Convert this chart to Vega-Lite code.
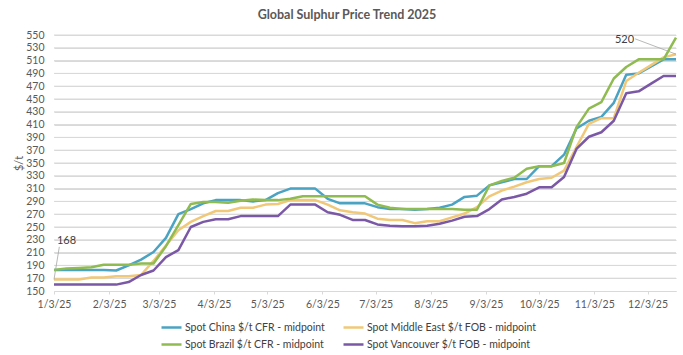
{
"$schema":"https://vega.github.io/schema/vega-lite/v6.json",
"width":622,"height":256,
"autosize":{"type":"none"},
"padding":{"left":54,"top":35,"right":7,"bottom":64},
"background":"white",
"config":{"font":"Lato","view":{"stroke":null},"axisY":{"grid":true,"gridColor":"#d9d9d9","gridWidth":1,"gridOpacity":1}},
"title":{"text":"Global Sulphur Price Trend 2025","fontSize":12.5,"fontWeight":"bold","color":"#595959","anchor":"middle","dx":-18,"offset":9},
"datasets":{
"gridlines":[{"level":170},{"level":190},{"level":210},{"level":230},{"level":250},{"level":270},{"level":290},{"level":310},{"level":330},{"level":350},{"level":370},{"level":390},{"level":410},{"level":430},{"level":450},{"level":470},{"level":490},{"level":510},{"level":530},{"level":550}],
"notes":[
{"date":"2025/01/03","price":168,"date2":"2025/01/06","price2":219,"date3":"2025/01/10","price3":228,"label":"168"},
{"date":"2025/12/19","price":520,"date2":"2025/11/26","price2":544,"date3":"2025/11/20","price3":542,"label":"520"}
],
"prices":[
{"date":"2025/01/03","series":"Spot China $/t CFR -  midpoint","price":183},
{"date":"2025/01/10","series":"Spot China $/t CFR -  midpoint","price":183},
{"date":"2025/01/17","series":"Spot China $/t CFR -  midpoint","price":183},
{"date":"2025/01/24","series":"Spot China $/t CFR -  midpoint","price":183},
{"date":"2025/01/31","series":"Spot China $/t CFR -  midpoint","price":183},
{"date":"2025/02/07","series":"Spot China $/t CFR -  midpoint","price":182},
{"date":"2025/02/14","series":"Spot China $/t CFR -  midpoint","price":190},
{"date":"2025/02/21","series":"Spot China $/t CFR -  midpoint","price":199},
{"date":"2025/02/28","series":"Spot China $/t CFR -  midpoint","price":211},
{"date":"2025/03/07","series":"Spot China $/t CFR -  midpoint","price":233},
{"date":"2025/03/14","series":"Spot China $/t CFR -  midpoint","price":270},
{"date":"2025/03/21","series":"Spot China $/t CFR -  midpoint","price":278},
{"date":"2025/03/28","series":"Spot China $/t CFR -  midpoint","price":287},
{"date":"2025/04/04","series":"Spot China $/t CFR -  midpoint","price":292},
{"date":"2025/04/11","series":"Spot China $/t CFR -  midpoint","price":292},
{"date":"2025/04/18","series":"Spot China $/t CFR -  midpoint","price":292},
{"date":"2025/04/25","series":"Spot China $/t CFR -  midpoint","price":290},
{"date":"2025/05/02","series":"Spot China $/t CFR -  midpoint","price":292},
{"date":"2025/05/09","series":"Spot China $/t CFR -  midpoint","price":303},
{"date":"2025/05/16","series":"Spot China $/t CFR -  midpoint","price":310},
{"date":"2025/05/23","series":"Spot China $/t CFR -  midpoint","price":310},
{"date":"2025/05/30","series":"Spot China $/t CFR -  midpoint","price":310},
{"date":"2025/06/06","series":"Spot China $/t CFR -  midpoint","price":294},
{"date":"2025/06/13","series":"Spot China $/t CFR -  midpoint","price":287},
{"date":"2025/06/20","series":"Spot China $/t CFR -  midpoint","price":287},
{"date":"2025/06/27","series":"Spot China $/t CFR -  midpoint","price":287},
{"date":"2025/07/04","series":"Spot China $/t CFR -  midpoint","price":281},
{"date":"2025/07/11","series":"Spot China $/t CFR -  midpoint","price":278},
{"date":"2025/07/18","series":"Spot China $/t CFR -  midpoint","price":278},
{"date":"2025/07/25","series":"Spot China $/t CFR -  midpoint","price":277},
{"date":"2025/08/01","series":"Spot China $/t CFR -  midpoint","price":278},
{"date":"2025/08/08","series":"Spot China $/t CFR -  midpoint","price":280},
{"date":"2025/08/15","series":"Spot China $/t CFR -  midpoint","price":285},
{"date":"2025/08/22","series":"Spot China $/t CFR -  midpoint","price":297},
{"date":"2025/08/29","series":"Spot China $/t CFR -  midpoint","price":299},
{"date":"2025/09/05","series":"Spot China $/t CFR -  midpoint","price":315},
{"date":"2025/09/12","series":"Spot China $/t CFR -  midpoint","price":320},
{"date":"2025/09/19","series":"Spot China $/t CFR -  midpoint","price":325},
{"date":"2025/09/26","series":"Spot China $/t CFR -  midpoint","price":325},
{"date":"2025/10/03","series":"Spot China $/t CFR -  midpoint","price":345},
{"date":"2025/10/10","series":"Spot China $/t CFR -  midpoint","price":345},
{"date":"2025/10/17","series":"Spot China $/t CFR -  midpoint","price":363},
{"date":"2025/10/24","series":"Spot China $/t CFR -  midpoint","price":404},
{"date":"2025/10/31","series":"Spot China $/t CFR -  midpoint","price":416},
{"date":"2025/11/07","series":"Spot China $/t CFR -  midpoint","price":422},
{"date":"2025/11/14","series":"Spot China $/t CFR -  midpoint","price":444},
{"date":"2025/11/21","series":"Spot China $/t CFR -  midpoint","price":488},
{"date":"2025/11/28","series":"Spot China $/t CFR -  midpoint","price":490},
{"date":"2025/12/05","series":"Spot China $/t CFR -  midpoint","price":501},
{"date":"2025/12/12","series":"Spot China $/t CFR -  midpoint","price":512},
{"date":"2025/12/19","series":"Spot China $/t CFR -  midpoint","price":512},
{"date":"2025/01/03","series":"Spot Middle East $/t FOB -  midpoint","price":168},
{"date":"2025/01/10","series":"Spot Middle East $/t FOB -  midpoint","price":168},
{"date":"2025/01/17","series":"Spot Middle East $/t FOB -  midpoint","price":168},
{"date":"2025/01/24","series":"Spot Middle East $/t FOB -  midpoint","price":171},
{"date":"2025/01/31","series":"Spot Middle East $/t FOB -  midpoint","price":171},
{"date":"2025/02/07","series":"Spot Middle East $/t FOB -  midpoint","price":173},
{"date":"2025/02/14","series":"Spot Middle East $/t FOB -  midpoint","price":173},
{"date":"2025/02/21","series":"Spot Middle East $/t FOB -  midpoint","price":175},
{"date":"2025/02/28","series":"Spot Middle East $/t FOB -  midpoint","price":197},
{"date":"2025/03/07","series":"Spot Middle East $/t FOB -  midpoint","price":221},
{"date":"2025/03/14","series":"Spot Middle East $/t FOB -  midpoint","price":245},
{"date":"2025/03/21","series":"Spot Middle East $/t FOB -  midpoint","price":258},
{"date":"2025/03/28","series":"Spot Middle East $/t FOB -  midpoint","price":267},
{"date":"2025/04/04","series":"Spot Middle East $/t FOB -  midpoint","price":275},
{"date":"2025/04/11","series":"Spot Middle East $/t FOB -  midpoint","price":275},
{"date":"2025/04/18","series":"Spot Middle East $/t FOB -  midpoint","price":280},
{"date":"2025/04/25","series":"Spot Middle East $/t FOB -  midpoint","price":280},
{"date":"2025/05/02","series":"Spot Middle East $/t FOB -  midpoint","price":285},
{"date":"2025/05/09","series":"Spot Middle East $/t FOB -  midpoint","price":286},
{"date":"2025/05/16","series":"Spot Middle East $/t FOB -  midpoint","price":292},
{"date":"2025/05/23","series":"Spot Middle East $/t FOB -  midpoint","price":292},
{"date":"2025/05/30","series":"Spot Middle East $/t FOB -  midpoint","price":292},
{"date":"2025/06/06","series":"Spot Middle East $/t FOB -  midpoint","price":285},
{"date":"2025/06/13","series":"Spot Middle East $/t FOB -  midpoint","price":276},
{"date":"2025/06/20","series":"Spot Middle East $/t FOB -  midpoint","price":273},
{"date":"2025/06/27","series":"Spot Middle East $/t FOB -  midpoint","price":271},
{"date":"2025/07/04","series":"Spot Middle East $/t FOB -  midpoint","price":263},
{"date":"2025/07/11","series":"Spot Middle East $/t FOB -  midpoint","price":261},
{"date":"2025/07/18","series":"Spot Middle East $/t FOB -  midpoint","price":261},
{"date":"2025/07/25","series":"Spot Middle East $/t FOB -  midpoint","price":256},
{"date":"2025/08/01","series":"Spot Middle East $/t FOB -  midpoint","price":259},
{"date":"2025/08/08","series":"Spot Middle East $/t FOB -  midpoint","price":259},
{"date":"2025/08/15","series":"Spot Middle East $/t FOB -  midpoint","price":265},
{"date":"2025/08/22","series":"Spot Middle East $/t FOB -  midpoint","price":271},
{"date":"2025/08/29","series":"Spot Middle East $/t FOB -  midpoint","price":281},
{"date":"2025/09/05","series":"Spot Middle East $/t FOB -  midpoint","price":298},
{"date":"2025/09/12","series":"Spot Middle East $/t FOB -  midpoint","price":307},
{"date":"2025/09/19","series":"Spot Middle East $/t FOB -  midpoint","price":313},
{"date":"2025/09/26","series":"Spot Middle East $/t FOB -  midpoint","price":320},
{"date":"2025/10/03","series":"Spot Middle East $/t FOB -  midpoint","price":325},
{"date":"2025/10/10","series":"Spot Middle East $/t FOB -  midpoint","price":327},
{"date":"2025/10/17","series":"Spot Middle East $/t FOB -  midpoint","price":338},
{"date":"2025/10/24","series":"Spot Middle East $/t FOB -  midpoint","price":375},
{"date":"2025/10/31","series":"Spot Middle East $/t FOB -  midpoint","price":411},
{"date":"2025/11/07","series":"Spot Middle East $/t FOB -  midpoint","price":420},
{"date":"2025/11/14","series":"Spot Middle East $/t FOB -  midpoint","price":420},
{"date":"2025/11/21","series":"Spot Middle East $/t FOB -  midpoint","price":478},
{"date":"2025/11/28","series":"Spot Middle East $/t FOB -  midpoint","price":491},
{"date":"2025/12/05","series":"Spot Middle East $/t FOB -  midpoint","price":503},
{"date":"2025/12/12","series":"Spot Middle East $/t FOB -  midpoint","price":515},
{"date":"2025/12/19","series":"Spot Middle East $/t FOB -  midpoint","price":520},
{"date":"2025/01/03","series":"Spot Brazil $/t CFR -  midpoint","price":183},
{"date":"2025/01/10","series":"Spot Brazil $/t CFR -  midpoint","price":185},
{"date":"2025/01/17","series":"Spot Brazil $/t CFR -  midpoint","price":186},
{"date":"2025/01/24","series":"Spot Brazil $/t CFR -  midpoint","price":187},
{"date":"2025/01/31","series":"Spot Brazil $/t CFR -  midpoint","price":191},
{"date":"2025/02/07","series":"Spot Brazil $/t CFR -  midpoint","price":191},
{"date":"2025/02/14","series":"Spot Brazil $/t CFR -  midpoint","price":191},
{"date":"2025/02/21","series":"Spot Brazil $/t CFR -  midpoint","price":193},
{"date":"2025/02/28","series":"Spot Brazil $/t CFR -  midpoint","price":193},
{"date":"2025/03/07","series":"Spot Brazil $/t CFR -  midpoint","price":220},
{"date":"2025/03/14","series":"Spot Brazil $/t CFR -  midpoint","price":253},
{"date":"2025/03/21","series":"Spot Brazil $/t CFR -  midpoint","price":286},
{"date":"2025/03/28","series":"Spot Brazil $/t CFR -  midpoint","price":289},
{"date":"2025/04/04","series":"Spot Brazil $/t CFR -  midpoint","price":289},
{"date":"2025/04/11","series":"Spot Brazil $/t CFR -  midpoint","price":288},
{"date":"2025/04/18","series":"Spot Brazil $/t CFR -  midpoint","price":291},
{"date":"2025/04/25","series":"Spot Brazil $/t CFR -  midpoint","price":293},
{"date":"2025/05/02","series":"Spot Brazil $/t CFR -  midpoint","price":292},
{"date":"2025/05/09","series":"Spot Brazil $/t CFR -  midpoint","price":292},
{"date":"2025/05/16","series":"Spot Brazil $/t CFR -  midpoint","price":294},
{"date":"2025/05/23","series":"Spot Brazil $/t CFR -  midpoint","price":298},
{"date":"2025/05/30","series":"Spot Brazil $/t CFR -  midpoint","price":298},
{"date":"2025/06/06","series":"Spot Brazil $/t CFR -  midpoint","price":298},
{"date":"2025/06/13","series":"Spot Brazil $/t CFR -  midpoint","price":298},
{"date":"2025/06/20","series":"Spot Brazil $/t CFR -  midpoint","price":298},
{"date":"2025/06/27","series":"Spot Brazil $/t CFR -  midpoint","price":298},
{"date":"2025/07/04","series":"Spot Brazil $/t CFR -  midpoint","price":285},
{"date":"2025/07/11","series":"Spot Brazil $/t CFR -  midpoint","price":280},
{"date":"2025/07/18","series":"Spot Brazil $/t CFR -  midpoint","price":278},
{"date":"2025/07/25","series":"Spot Brazil $/t CFR -  midpoint","price":278},
{"date":"2025/08/01","series":"Spot Brazil $/t CFR -  midpoint","price":278},
{"date":"2025/08/08","series":"Spot Brazil $/t CFR -  midpoint","price":278},
{"date":"2025/08/15","series":"Spot Brazil $/t CFR -  midpoint","price":278},
{"date":"2025/08/22","series":"Spot Brazil $/t CFR -  midpoint","price":277},
{"date":"2025/08/29","series":"Spot Brazil $/t CFR -  midpoint","price":277},
{"date":"2025/09/05","series":"Spot Brazil $/t CFR -  midpoint","price":315},
{"date":"2025/09/12","series":"Spot Brazil $/t CFR -  midpoint","price":322},
{"date":"2025/09/19","series":"Spot Brazil $/t CFR -  midpoint","price":327},
{"date":"2025/09/26","series":"Spot Brazil $/t CFR -  midpoint","price":341},
{"date":"2025/10/03","series":"Spot Brazil $/t CFR -  midpoint","price":345},
{"date":"2025/10/10","series":"Spot Brazil $/t CFR -  midpoint","price":345},
{"date":"2025/10/17","series":"Spot Brazil $/t CFR -  midpoint","price":350},
{"date":"2025/10/24","series":"Spot Brazil $/t CFR -  midpoint","price":406},
{"date":"2025/10/31","series":"Spot Brazil $/t CFR -  midpoint","price":435},
{"date":"2025/11/07","series":"Spot Brazil $/t CFR -  midpoint","price":445},
{"date":"2025/11/14","series":"Spot Brazil $/t CFR -  midpoint","price":482},
{"date":"2025/11/21","series":"Spot Brazil $/t CFR -  midpoint","price":500},
{"date":"2025/11/28","series":"Spot Brazil $/t CFR -  midpoint","price":512},
{"date":"2025/12/05","series":"Spot Brazil $/t CFR -  midpoint","price":512},
{"date":"2025/12/12","series":"Spot Brazil $/t CFR -  midpoint","price":512},
{"date":"2025/12/19","series":"Spot Brazil $/t CFR -  midpoint","price":546},
{"date":"2025/01/03","series":"Spot Vancouver $/t FOB -  midpoint","price":160},
{"date":"2025/01/10","series":"Spot Vancouver $/t FOB -  midpoint","price":160},
{"date":"2025/01/17","series":"Spot Vancouver $/t FOB -  midpoint","price":160},
{"date":"2025/01/24","series":"Spot Vancouver $/t FOB -  midpoint","price":160},
{"date":"2025/01/31","series":"Spot Vancouver $/t FOB -  midpoint","price":160},
{"date":"2025/02/07","series":"Spot Vancouver $/t FOB -  midpoint","price":160},
{"date":"2025/02/14","series":"Spot Vancouver $/t FOB -  midpoint","price":164},
{"date":"2025/02/21","series":"Spot Vancouver $/t FOB -  midpoint","price":175},
{"date":"2025/02/28","series":"Spot Vancouver $/t FOB -  midpoint","price":182},
{"date":"2025/03/07","series":"Spot Vancouver $/t FOB -  midpoint","price":203},
{"date":"2025/03/14","series":"Spot Vancouver $/t FOB -  midpoint","price":214},
{"date":"2025/03/21","series":"Spot Vancouver $/t FOB -  midpoint","price":250},
{"date":"2025/03/28","series":"Spot Vancouver $/t FOB -  midpoint","price":258},
{"date":"2025/04/04","series":"Spot Vancouver $/t FOB -  midpoint","price":262},
{"date":"2025/04/11","series":"Spot Vancouver $/t FOB -  midpoint","price":262},
{"date":"2025/04/18","series":"Spot Vancouver $/t FOB -  midpoint","price":267},
{"date":"2025/04/25","series":"Spot Vancouver $/t FOB -  midpoint","price":267},
{"date":"2025/05/02","series":"Spot Vancouver $/t FOB -  midpoint","price":267},
{"date":"2025/05/09","series":"Spot Vancouver $/t FOB -  midpoint","price":267},
{"date":"2025/05/16","series":"Spot Vancouver $/t FOB -  midpoint","price":285},
{"date":"2025/05/23","series":"Spot Vancouver $/t FOB -  midpoint","price":285},
{"date":"2025/05/30","series":"Spot Vancouver $/t FOB -  midpoint","price":285},
{"date":"2025/06/06","series":"Spot Vancouver $/t FOB -  midpoint","price":273},
{"date":"2025/06/13","series":"Spot Vancouver $/t FOB -  midpoint","price":269},
{"date":"2025/06/20","series":"Spot Vancouver $/t FOB -  midpoint","price":261},
{"date":"2025/06/27","series":"Spot Vancouver $/t FOB -  midpoint","price":261},
{"date":"2025/07/04","series":"Spot Vancouver $/t FOB -  midpoint","price":254},
{"date":"2025/07/11","series":"Spot Vancouver $/t FOB -  midpoint","price":252},
{"date":"2025/07/18","series":"Spot Vancouver $/t FOB -  midpoint","price":251},
{"date":"2025/07/25","series":"Spot Vancouver $/t FOB -  midpoint","price":251},
{"date":"2025/08/01","series":"Spot Vancouver $/t FOB -  midpoint","price":252},
{"date":"2025/08/08","series":"Spot Vancouver $/t FOB -  midpoint","price":255},
{"date":"2025/08/15","series":"Spot Vancouver $/t FOB -  midpoint","price":260},
{"date":"2025/08/22","series":"Spot Vancouver $/t FOB -  midpoint","price":266},
{"date":"2025/08/29","series":"Spot Vancouver $/t FOB -  midpoint","price":267},
{"date":"2025/09/05","series":"Spot Vancouver $/t FOB -  midpoint","price":278},
{"date":"2025/09/12","series":"Spot Vancouver $/t FOB -  midpoint","price":293},
{"date":"2025/09/19","series":"Spot Vancouver $/t FOB -  midpoint","price":297},
{"date":"2025/09/26","series":"Spot Vancouver $/t FOB -  midpoint","price":302},
{"date":"2025/10/03","series":"Spot Vancouver $/t FOB -  midpoint","price":312},
{"date":"2025/10/10","series":"Spot Vancouver $/t FOB -  midpoint","price":312},
{"date":"2025/10/17","series":"Spot Vancouver $/t FOB -  midpoint","price":328},
{"date":"2025/10/24","series":"Spot Vancouver $/t FOB -  midpoint","price":372},
{"date":"2025/10/31","series":"Spot Vancouver $/t FOB -  midpoint","price":391},
{"date":"2025/11/07","series":"Spot Vancouver $/t FOB -  midpoint","price":398},
{"date":"2025/11/14","series":"Spot Vancouver $/t FOB -  midpoint","price":416},
{"date":"2025/11/21","series":"Spot Vancouver $/t FOB -  midpoint","price":459},
{"date":"2025/11/28","series":"Spot Vancouver $/t FOB -  midpoint","price":462},
{"date":"2025/12/05","series":"Spot Vancouver $/t FOB -  midpoint","price":474},
{"date":"2025/12/12","series":"Spot Vancouver $/t FOB -  midpoint","price":486},
{"date":"2025/12/19","series":"Spot Vancouver $/t FOB -  midpoint","price":486}
]
},
"layer":[
{"data":{"name":"gridlines"},
 "mark":{"type":"rule","color":"#d9d9d9","strokeWidth":1},
 "encoding":{"y":{"field":"level","type":"quantitative"}}},
{"data":{"name":"prices"},
 "mark":{"type":"line","strokeWidth":2.5,"strokeJoin":"round"},
 "encoding":{
  "x":{"field":"date","type":"temporal","title":null,
   "scale":{"domain":[{"year":2025,"month":1,"date":3},{"year":2025,"month":12,"date":19}],"nice":false},
   "axis":{"values":[{"year":2025,"month":1,"date":3},{"year":2025,"month":2,"date":3},{"year":2025,"month":3,"date":3},{"year":2025,"month":4,"date":3},{"year":2025,"month":5,"date":3},{"year":2025,"month":6,"date":3},{"year":2025,"month":7,"date":3},{"year":2025,"month":8,"date":3},{"year":2025,"month":9,"date":3},{"year":2025,"month":10,"date":3},{"year":2025,"month":11,"date":3},{"year":2025,"month":12,"date":3}],
    "tickCount":30,"format":"%-m/%-d/%y","grid":false,"labelFontSize":10.5,"labelColor":"#595959","domainColor":"#d9d9d9","tickColor":"#d9d9d9","tickSize":3,"labelPadding":5,"labelFlush":false,"labelOverlap":false}},
  "y":{"field":"price","type":"quantitative","title":"$/t",
   "scale":{"domain":[150,550],"nice":false,"zero":false},
   "axis":{"values":[150,170,190,210,230,250,270,290,310,330,350,370,390,410,430,450,470,490,510,530,550],
    "tickCount":30,"grid":true,"gridColor":"#d9d9d9","domain":false,"ticks":false,"labelPadding":10,"labelFontSize":10.5,"labelColor":"#595959","labelOverlap":false,"titleColor":"#595959","titleFontSize":11,"titleFontWeight":"normal","titlePadding":1}},
  "color":{"field":"series","type":"nominal",
   "scale":{"domain":["Spot China $/t CFR -  midpoint","Spot Middle East $/t FOB -  midpoint","Spot Brazil $/t CFR -  midpoint","Spot Vancouver $/t FOB -  midpoint"],"range":["#4aa3c2","#f0c878","#8fbb50","#7b58a6"]},
   "legend":{"title":null,"orient":"none","legendX":106,"legendY":281,"columns":2,"direction":"horizontal","symbolType":"stroke","symbolSize":400,"symbolStrokeWidth":2.5,"labelFontSize":10.5,"labelColor":"#404040","labelLimit":400,"columnPadding":10,"rowPadding":0,"labelOffset":2}}
 }},
{"data":{"name":"notes"},
 "mark":{"type":"rule","color":"#a6a6a6","strokeWidth":0.8},
 "encoding":{"x":{"field":"date","type":"temporal"},"y":{"field":"price","type":"quantitative"},"x2":{"field":"date2"},"y2":{"field":"price2"}}},
{"data":{"name":"notes"},
 "mark":{"type":"text","fontSize":11,"color":"#404040"},
 "encoding":{"x":{"field":"date3","type":"temporal"},"y":{"field":"price3","type":"quantitative"},"text":{"field":"label"}}}
]
}
